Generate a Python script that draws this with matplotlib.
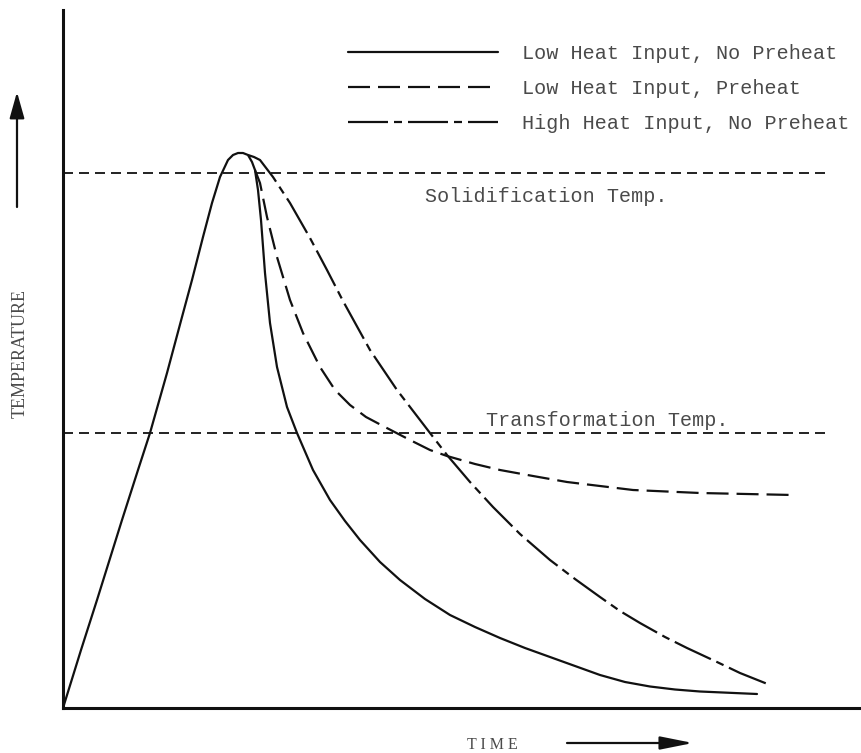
import matplotlib
matplotlib.use("Agg")
import matplotlib.pyplot as plt

plt.rcParams['lines.scale_dashes'] = False

# ---- data (arbitrary time / temperature units) ----
rise_t = [0, 18, 34, 59, 75, 87, 104, 119, 129, 140, 149, 157, 165, 170, 175, 180, 185]
rise_T = [0, 58, 108, 188, 238, 275, 335, 391, 428, 471, 505, 531, 548, 553, 555, 555, 553]

low_np_t = [189, 192, 195, 198, 202, 207, 214, 224, 234, 250, 267, 282, 297, 317,
            337, 362, 387, 412, 437, 462, 487, 512, 537, 562, 587, 612, 637, 694]
low_np_T = [546, 538, 518, 488, 435, 385, 341, 301, 275, 238, 208, 187, 168, 146,
            128, 109, 93, 81, 70, 60, 51, 42, 33, 26, 21.5, 18.5, 16.5, 14]

low_ph_t = [192, 197, 204, 214, 227, 240, 257, 272, 287, 303, 320, 347, 367, 384,
            412, 437, 470, 504, 537, 570, 637, 730]
low_ph_T = [538, 525, 491, 451, 408, 375, 341, 318, 303, 291, 282, 268, 258, 252,
            244, 238, 232, 226, 222, 218, 215, 213]

high_np_t = [185, 191, 197, 210, 227, 247, 264, 280, 307, 334, 367, 384, 407, 430,
             457, 487, 512, 537, 557, 577, 602, 624, 654, 677, 707]
high_np_T = [553, 551, 548, 531, 505, 470, 438, 407, 358, 318, 275, 253, 226, 201,
             174, 148, 129, 111, 97, 85, 71, 60, 46, 35, 23]

ref_t = [0, 767]
solidif_T = [535, 535]
transf_T = [275, 275]

labels = ["Low Heat Input, No Preheat", "Low Heat Input, Preheat",
          "High Heat Input, No Preheat"]

# ---- figure ----
W, H = 862, 753
fig = plt.figure(figsize=(W / 100, H / 100), dpi=100)
fig.patch.set_facecolor('white')
ax = fig.add_axes([63 / W, (H - 708) / H, (W - 63) / W, (708 - 10) / H])
ax.set_xlim(0, 799)
ax.set_ylim(0, 698)
for s in ['top', 'right']:
    ax.spines[s].set_visible(False)
for s in ['left', 'bottom']:
    ax.spines[s].set_linewidth(2.2)
    ax.spines[s].set_color('#111111')
ax.set_xticks([])
ax.set_yticks([])

px = 0.72  # points per pixel
ink = '#111111'
lw = 1.6

# shared heating branch + low heat, no preheat
curve1_t = rise_t + low_np_t
curve1_T = rise_T + low_np_T
l1, = ax.plot(curve1_t, curve1_T, color=ink, lw=lw, label=labels[0],
              solid_joinstyle='round', solid_capstyle='round')
l2, = ax.plot(low_ph_t, low_ph_T, color=ink, lw=lw, label=labels[1],
              dashes=(22 * px, 8 * px), dash_joinstyle='round')
l3, = ax.plot(high_np_t, high_np_T, color=ink, lw=lw, label=labels[2],
              dashes=(40 * px, 6 * px, 8 * px, 6 * px), dash_joinstyle='round')

# reference temperature lines
ax.plot(ref_t, solidif_T, color=ink, lw=1.3, dashes=(10 * px, 6 * px))
ax.plot(ref_t, transf_T, color=ink, lw=1.3, dashes=(10 * px, 6 * px))

mono = 'Liberation Mono'
txtc = '#4a4a4a'
ax.text(362, 511, "Solidification Temp.", family=mono, fontsize=14.5,
        color=txtc, va='center', ha='left')
ax.text(423, 288, "Transformation Temp.", family=mono, fontsize=14.5,
        color=txtc, va='center', ha='left')

leg = ax.legend(handles=[l1, l2, l3], loc='upper left',
                bbox_to_anchor=(348 / W, (H - 44) / H),
                bbox_transform=fig.transFigure, frameon=False,
                prop={'family': mono, 'size': 14.5},
                handlelength=7.45, handletextpad=1.2, labelspacing=0.8,
                borderpad=0, borderaxespad=0)
for t in leg.get_texts():
    t.set_color(txtc)

# axis labels with arrows
serif = 'Liberation Serif'
fig.text(20 / W, (H - 353) / H, "TEMPERATURE", rotation=90, family=serif,
         fontsize=13, color=txtc, ha='center', va='center')
fig.text(492 / W, (H - 745) / H, "T I M E", family=serif, fontsize=11.5,
         color=txtc, ha='center', va='center')

ax.annotate('', xy=(17, H - 92), xytext=(17, H - 207),
            xycoords='figure pixels', textcoords='figure pixels',
            arrowprops=dict(arrowstyle='-|>,head_length=1.6,head_width=0.45',
                            color=ink, lw=1.6, shrinkA=0, shrinkB=0))
ax.annotate('', xy=(693, H - 743), xytext=(567, H - 743),
            xycoords='figure pixels', textcoords='figure pixels',
            arrowprops=dict(arrowstyle='-|>,head_length=2.0,head_width=0.4',
                            color=ink, lw=1.6, shrinkA=0, shrinkB=0))

fig.savefig("out.png", dpi=100, facecolor='white')
